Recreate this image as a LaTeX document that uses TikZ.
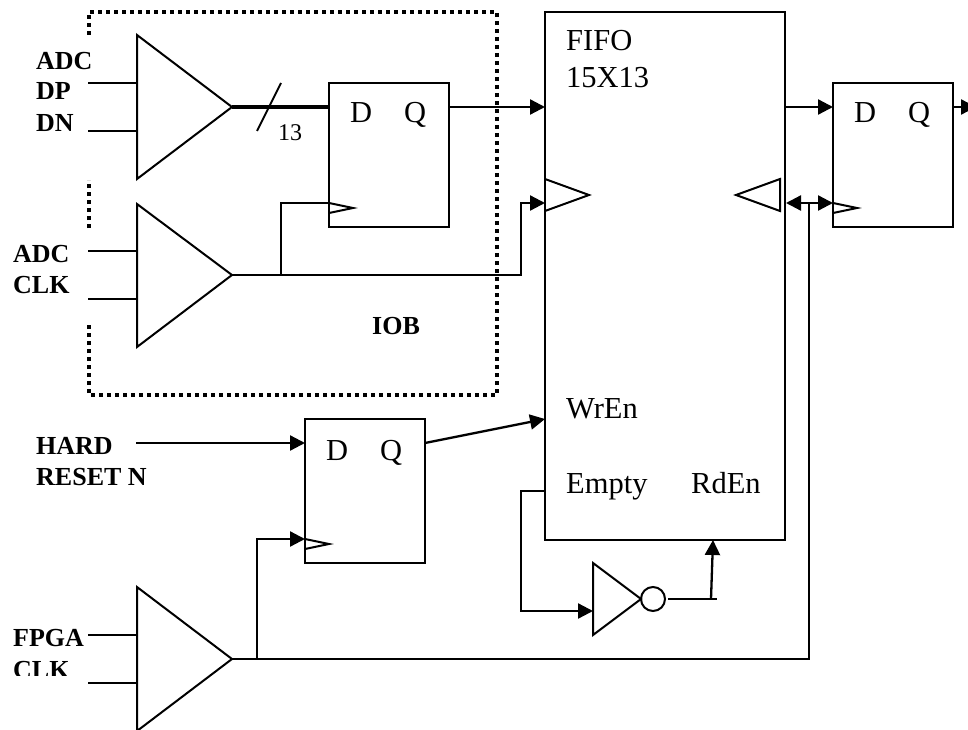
\documentclass[tikz,border=0pt]{standalone}
\usepackage{fontspec}
\setmainfont{Liberation Serif}
\usetikzlibrary{arrows.meta}
\tikzset{
  x=1pt,y=-1pt,
  wire/.style={line width=2pt},
  awire/.style={line width=2.3pt,line join=miter,-{Triangle[length=15pt,width=15pt]}},
  dblwire/.style={line width=2.3pt,{Triangle[length=15pt,width=15pt]}-{Triangle[length=15pt,width=15pt]}},
  busw/.style={line width=3.6pt},
  gate/.style={line width=2pt,line join=miter},
  iob/.style={line width=4pt,dash pattern=on 4pt off 4pt},
  blockbox/.style={draw,line width=2pt,inner sep=0pt,outer sep=0pt,anchor=north west},
  ffbox/.style={blockbox,minimum width=120pt,minimum height=144pt},
  lab/.style={anchor=base west,inner sep=0pt,font=\fontsize{26}{30}\selectfont\bfseries},
  big/.style={anchor=base west,inner sep=0pt,font=\fontsize{30.5}{36}\selectfont},
  small/.style={anchor=base west,inner sep=0pt,font=\fontsize{24}{28}\selectfont},
}
\begin{document}
\begin{tikzpicture}
\useasboundingbox (0,0) rectangle (968,730);
\clip (0,0) rectangle (968,730);
% blocks
\node[ffbox] (ff1) at (329,83) {};
\node[ffbox] (ff2) at (833,83) {};
\node[ffbox] (ff3) at (305,419) {};
\node[blockbox,minimum width=240pt,minimum height=528pt] (fifo) at (545,12) {};
% IOB boundary
\draw[iob] (89,35) -- (89,12) -- (497,12) -- (497,395) -- (89,395) -- (89,325);
\draw[iob] (89,228) -- (89,180);
% pins
\coordinate (a1) at (88,83); \coordinate (a2) at (88,131);
\coordinate (a3) at (137,83); \coordinate (a4) at (137,131);
\coordinate (aout) at (232,107);
\coordinate (b1) at (88,251); \coordinate (b2) at (88,299);
\coordinate (b3) at (137,251); \coordinate (b4) at (137,299);
\coordinate (bout) at (232,275);
\coordinate (c1) at (88,635); \coordinate (c2) at (88,683);
\coordinate (c3) at (137,635); \coordinate (c4) at (137,683);
\coordinate (cout) at (232,659);
\coordinate (ff1d) at (329,107); \coordinate (ff1q) at (449,107);
\coordinate (ff1c) at (329,203);
\coordinate (ff2d) at (833,107); \coordinate (ff2q) at (953,107);
\coordinate (ff2c) at (833,203);
\coordinate (ff3d) at (305,443); \coordinate (ff3q) at (425,443);
\coordinate (ff3c) at (305,539);
\coordinate (fd) at (545,107); \coordinate (fq) at (785,107);
\coordinate (fclk) at (545,203); \coordinate (frclk) at (786,203);
\coordinate (fwr) at (545,419); \coordinate (femp) at (545,491);
\coordinate (frd) at (713,540);
\coordinate (bj) at (281,275); \coordinate (cj) at (257,659);
\coordinate (rj) at (809,203);
\coordinate (rst) at (136,443); \coordinate (outr) at (976,107);
\coordinate (invin) at (593,611); \coordinate (invb) at (711,599);
% gates
\draw[gate] (137,35) -- (137,179) -- (aout) -- cycle;
\draw[gate] (137,204) -- (137,347) -- (bout) -- cycle;
\draw[gate] (137,587) -- (137,731) -- (cout) -- cycle;
\draw[gate] (593,563) -- (593,635) -- (641,599) -- cycle;
\node[draw,circle,line width=2pt,outer sep=0pt,minimum size=24pt,inner sep=0pt] (bub) at (653,599) {};
% clock marks
\draw[gate] (ff1c) -- (353,208) -- (329,213);
\draw[gate] (ff2c) -- (857,208) -- (833,213);
\draw[gate] (ff3c) -- (329,544) -- (305,549);
\draw[gate] (545,179) -- (589,195) -- (545,211);
\draw[gate] (780,179) -- (736,195) -- (780,211) -- cycle;
% wires
\draw[wire] (a1) -- (a3); \draw[wire] (a2) -- (a4);
\draw[wire] (b1) -- (b3); \draw[wire] (b2) -- (b4);
\draw[wire] (c1) -- (c3); \draw[wire] (c2) -- (c4);
\draw[busw] (aout) -- (ff1d);
\draw[wire] (257,131) -- (281,83);
\draw[awire] (ff1q) -- (fd);
\draw[wire] (bj) |- (ff1c);
\draw[wire] (bout) -- (bj);
\draw[awire] (bj) -- (521,275) -- (521,203) -- (fclk);
\draw[awire] (fq) -- (ff2d);
\draw[awire] (ff2q) -- (outr);
\draw[dblwire] (frclk) -- (ff2c);
\draw[wire] (cout) -- (cj) -- (809,659) -- (rj);
\draw[awire] (cj) |- (ff3c);
\draw[awire] (rst) -- (ff3d);
\draw[awire] (ff3q) -- (fwr);
\draw[awire] (femp) -- (521,491) -- (521,611) -- (invin);
\draw[wire] (668,599) -- (717,599);
\draw[awire] (invb) -- (frd);
% text
\node[big] (td1) at (350,123) {D};
\node[big] (tq1) at (404,123) {Q};
\node[big] (td2) at (854,123) {D};
\node[big] (tq2) at (908,123) {Q};
\node[big] (td3) at (326,460) {D};
\node[big] (tq3) at (380,460) {Q};
\node[big] (tf1) at (566,51) {FIFO};
\node[big] (tf2) at (566,88) {15X13};
\node[big] (twr) at (566,418) {WrEn};
\node[big] (tem) at (566,493) {Empty};
\node[big] (trd) at (691,493) {RdEn};
\node[small] (t13) at (278,141) {13};
\node[lab] (l1) at (36,70) {ADC};
\node[lab] (l2) at (36,100) {DP};
\node[lab] (l3) at (36,132) {DN};
\node[lab] (l4) at (13,262) {ADC};
\node[lab] (l5) at (13,293) {CLK};
\node[lab] (l6) at (372,334) {IOB};
\node[lab] (l7) at (36,454) {HARD};
\node[lab] (l8) at (36,485) {RESET N};
\node[lab] (l9) at (13,646) {FPGA};
\begin{scope}
\clip (0,650) rectangle (100,675);
\node[lab] (l10) at (13,678) {CLK};
\end{scope}
\end{tikzpicture}
\end{document}
